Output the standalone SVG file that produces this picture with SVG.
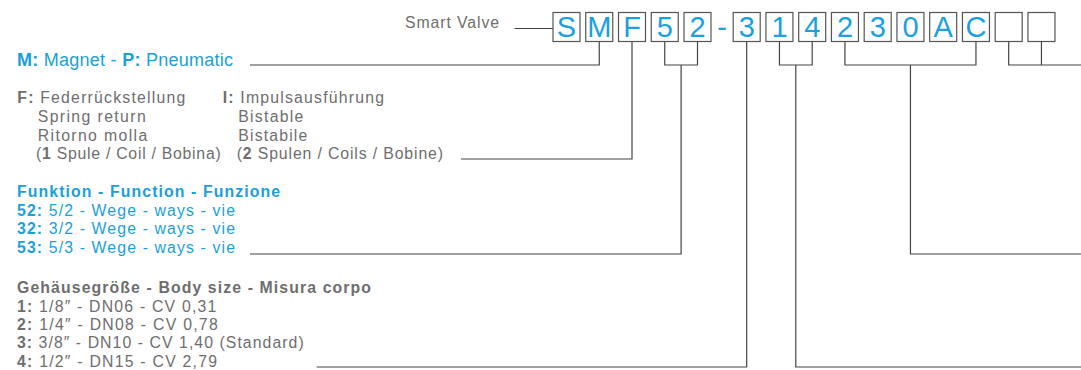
<svg xmlns="http://www.w3.org/2000/svg" width="1081" height="370" viewBox="0 0 1081 370">
<style>
.bx{fill:#fff;stroke:#555;stroke-width:1.2}
.bl{font-family:"Liberation Sans",Arial,sans-serif;font-size:29px;fill:#1a9fe0;text-anchor:middle}
.t{font-family:"Liberation Sans",Arial,sans-serif;font-size:15.8px;fill:#6e6e6e}
.b{font-weight:bold}
.blue{fill:#1a9fdb}
.big{font-size:18px}
.c{fill:none;stroke:#444;stroke-width:1.2}
</style>
<rect width="1081" height="370" fill="#fff"/>
<g id="title"><text class="t" x="405" y="28.3" font-size="16.5" textLength="94" lengthAdjust="spacing">Smart Valve</text></g>
<g id="code">
<rect class="bx" x="553" y="12.5" width="27" height="29"/>
<rect class="bx" x="585.75" y="12.5" width="27" height="29"/>
<rect class="bx" x="618.5" y="12.5" width="27" height="29"/>
<rect class="bx" x="651.25" y="12.5" width="27" height="29"/>
<rect class="bx" x="684" y="12.5" width="27" height="29"/>
<rect class="bx" x="733.2" y="12.5" width="27" height="29"/>
<rect class="bx" x="765.95" y="12.5" width="27" height="29"/>
<rect class="bx" x="798.7" y="12.5" width="27" height="29"/>
<rect class="bx" x="831.45" y="12.5" width="27" height="29"/>
<rect class="bx" x="864.2" y="12.5" width="27" height="29"/>
<rect class="bx" x="896.95" y="12.5" width="27" height="29"/>
<rect class="bx" x="929.7" y="12.5" width="27" height="29"/>
<rect class="bx" x="962.45" y="12.5" width="27" height="29"/>
<rect class="bx" x="995.2" y="12.5" width="27" height="29"/>
<rect class="bx" x="1027.95" y="12.5" width="27" height="29"/>
<text class="bl" x="566.5" y="37">S</text>
<text class="bl" x="599.25" y="37">M</text>
<text class="bl" x="632" y="37">F</text>
<text class="bl" x="664.75" y="37">5</text>
<text class="bl" x="697.5" y="37">2</text>
<text class="bl" x="722" y="37">-</text>
<text class="bl" x="746.7" y="37">3</text>
<text class="bl" x="779.45" y="37">1</text>
<text class="bl" x="812.2" y="37">4</text>
<text class="bl" x="844.95" y="37">2</text>
<text class="bl" x="877.7" y="37">3</text>
<text class="bl" x="910.45" y="37">0</text>
<text class="bl" x="943.2" y="37">A</text>
<text class="bl" x="975.95" y="37">C</text>
</g>
<g id="actuation"><text class="t blue big" x="17" y="65.7" textLength="216" lengthAdjust="spacing"><tspan class="b">M:</tspan> Magnet - <tspan class="b">P:</tspan> Pneumatic</text></g>
<g id="reset">
<text class="t" x="17.3" y="103.3" textLength="168" lengthAdjust="spacing"><tspan class="b">F:</tspan> Federrückstellung</text>
<text class="t" x="37.7" y="122" textLength="108" lengthAdjust="spacing">Spring return</text>
<text class="t" x="37.7" y="140.7" textLength="109.6" lengthAdjust="spacing">Ritorno molla</text>
<text class="t" x="36" y="159.3" textLength="184.7" lengthAdjust="spacing">(<tspan class="b">1</tspan> Spule / Coil / Bobina)</text>
<text class="t" x="222.7" y="103.3" textLength="161.3" lengthAdjust="spacing"><tspan class="b">I:</tspan> Impulsausführung</text>
<text class="t" x="238.3" y="122" textLength="65" lengthAdjust="spacing">Bistable</text>
<text class="t" x="238.3" y="140.7" textLength="69" lengthAdjust="spacing">Bistabile</text>
<text class="t" x="236.7" y="159.3" textLength="206.3" lengthAdjust="spacing">(<tspan class="b">2</tspan> Spulen / Coils / Bobine)</text>
</g>
<g id="function">
<text class="t blue b" x="17" y="197" textLength="263" lengthAdjust="spacing">Funktion - Function - Funzione</text>
<text class="t blue" x="17" y="215.7" textLength="218" lengthAdjust="spacing"><tspan class="b">52:</tspan> 5/2 - Wege - ways - vie</text>
<text class="t blue" x="17" y="234.3" textLength="218" lengthAdjust="spacing"><tspan class="b">32:</tspan> 3/2 - Wege - ways - vie</text>
<text class="t blue" x="17" y="252.7" textLength="218" lengthAdjust="spacing"><tspan class="b">53:</tspan> 5/3 - Wege - ways - vie</text>
</g>
<g id="bodysize">
<text class="t b" x="17" y="293.3" textLength="354" lengthAdjust="spacing">Gehäusegröße - Body size - Misura corpo</text>
<text class="t" x="17" y="311.7" textLength="199.3" lengthAdjust="spacing"><tspan class="b">1:</tspan> 1/8″ - DN06 - CV 0,31</text>
<text class="t" x="17" y="330" textLength="200.7" lengthAdjust="spacing"><tspan class="b">2:</tspan> 1/4″ - DN08 - CV 0,78</text>
<text class="t" x="17" y="348.3" textLength="286.7" lengthAdjust="spacing"><tspan class="b">3:</tspan> 3/8″ - DN10 - CV 1,40 (Standard)</text>
<text class="t" x="17" y="366.7" textLength="200" lengthAdjust="spacing"><tspan class="b">4:</tspan> 1/2″ - DN15 - CV 2,79</text>
</g>
<g id="connectors">
<path class="c" d="M514.5 28.5H553"/>
<path class="c" d="M250 65H599.25V41.5"/>
<path class="c" d="M461 159H632V41.5"/>
<path class="c" d="M664.75 41.5V65H697.5V41.5M681.1 65V254H250"/>
<path class="c" d="M316.7 367H746.7V41.5"/>
<path class="c" d="M779.45 41.5V65H812.2V41.5M795.8 65V367H1081"/>
<path class="c" d="M844.95 41.5V65H975.95V41.5M910.45 65V254H1081"/>
<path class="c" d="M1008.7 41.5V65H1081M1041.45 41.5V65"/>
</g>
</svg>
